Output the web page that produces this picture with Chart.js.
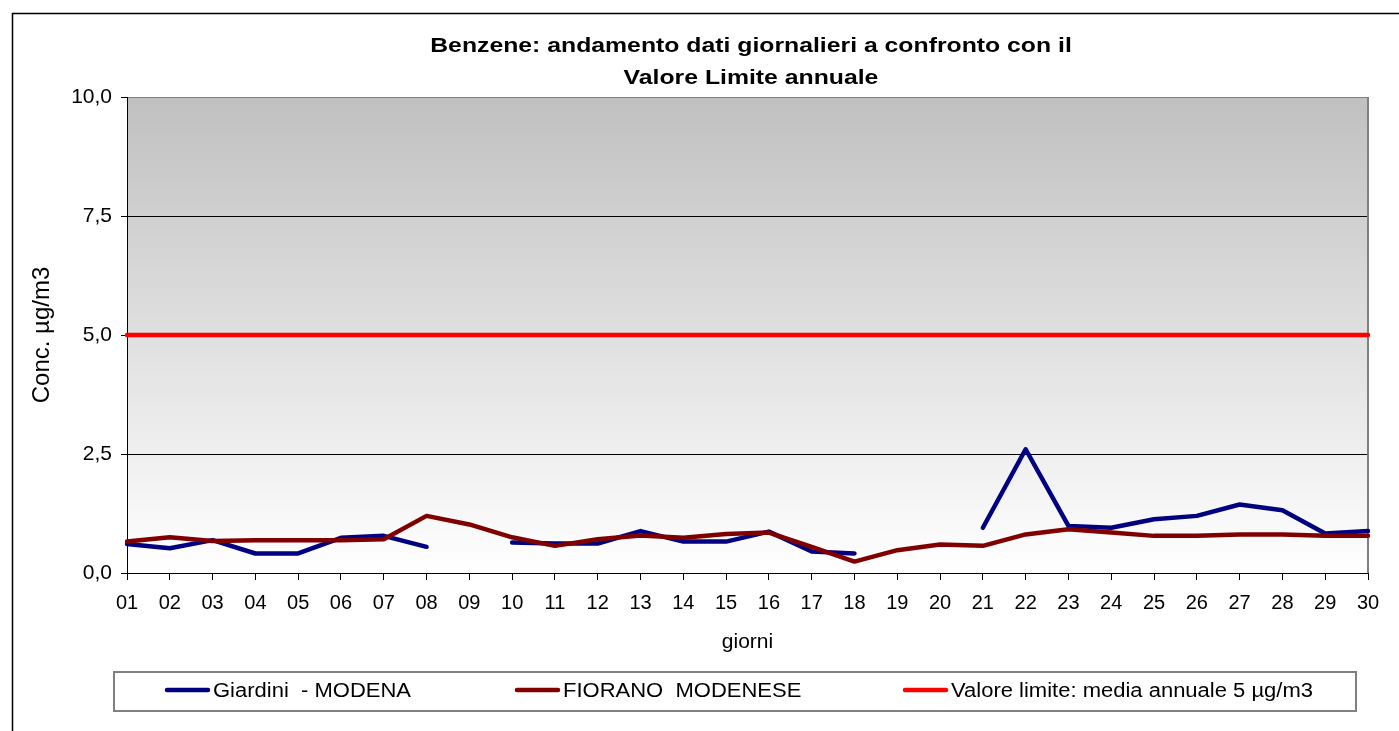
<!DOCTYPE html>
<html>
<head>
<meta charset="utf-8">
<script src="https://cdn.jsdelivr.net/npm/chart.js@4/dist/chart.umd.min.js"></script>
<style>
  html, body { margin: 0; padding: 0; background: #fff; }
  #benzene-chart-container { position: relative; width: 1399px; height: 731px; }
</style>
</head>
<body>
<div id="benzene-chart-container"><canvas id="benzene-chart" width="1399" height="731"></canvas></div>
<script>
// dati (null = dato mancante)
const giorni = ['01','02','03','04','05','06','07','08','09','10','11','12','13','14','15',
                '16','17','18','19','20','21','22','23','24','25','26','27','28','29','30'];
const giardini = [0.61, 0.52, 0.69, 0.41, 0.41, 0.74, 0.78, 0.55, null, 0.64,
                  0.62, 0.62, 0.88, 0.66, 0.66, 0.87, 0.45, 0.41, null, null,
                  0.95, 2.60, 0.99, 0.95, 1.13, 1.20, 1.44, 1.32, 0.83, 0.88];
const fiorano = [0.66, 0.75, 0.67, 0.69, 0.69, 0.69, 0.71, 1.20, 1.02, 0.75,
                 0.57, 0.71, 0.79, 0.74, 0.82, 0.85, 0.55, 0.24, 0.48, 0.60,
                 0.57, 0.81, 0.92, 0.85, 0.78, 0.78, 0.81, 0.81, 0.78, 0.78];
const valoreLimite = [5, 5, 5, 5, 5, 5, 5, 5, 5, 5, 5, 5, 5, 5, 5,
                      5, 5, 5, 5, 5, 5, 5, 5, 5, 5, 5, 5, 5, 5, 5];
const etichette = ['Giardini  - MODENA', 'FIORANO  MODENESE', 'Valore limite: media annuale 5 \u00b5g/m3'];
const titolo = ['Benzene: andamento dati giornalieri a confronto con il', 'Valore Limite annuale'];

const FONT = "'Liberation Sans', Arial, sans-serif";

// testo un po' allargato in orizzontale, come nel grafico originale
function stretchText(ctx, text, x, y, sx) {
  ctx.save();
  ctx.translate(x, y);
  ctx.scale(sx, 1);
  ctx.fillText(text, 0, 0);
  ctx.restore();
}

// sfondo grigio sfumato, cornice, titolo e legenda disegnati a mano
const decorPlugin = {
  id: 'decor',
  beforeDraw(chart) {
    const { ctx, chartArea: a } = chart;
    const g = ctx.createLinearGradient(0, a.top, 0, a.bottom);
    g.addColorStop(0, '#c0c0c0');
    g.addColorStop(1, '#ffffff');
    ctx.save();
    ctx.fillStyle = g;
    ctx.fillRect(a.left, a.top, a.right - a.left, a.bottom - a.top);
    ctx.restore();
  },
  beforeDatasetsDraw(chart) {
    const { ctx, chartArea: a } = chart;
    ctx.save();
    ctx.strokeStyle = '#808080';
    ctx.lineWidth = 2;
    ctx.beginPath();
    ctx.moveTo(a.right, a.top);
    ctx.lineTo(a.right, a.bottom);
    ctx.stroke();
    ctx.restore();
  },
  afterDraw(chart) {
    const ctx = chart.ctx;
    ctx.save();
    // cornice esterna
    ctx.strokeStyle = '#000';
    ctx.lineWidth = 1.5;
    ctx.beginPath();
    ctx.moveTo(12.5, 731);
    ctx.lineTo(12.5, 13.5);
    ctx.lineTo(1399, 13.5);
    ctx.stroke();

    // titolo
    ctx.fillStyle = '#000';
    ctx.font = 'bold 21px ' + FONT;
    ctx.textAlign = 'center';
    ctx.textBaseline = 'middle';
    stretchText(ctx, titolo[0], 751, 46, 1.18);
    stretchText(ctx, titolo[1], 751, 78, 1.18);

    // legenda
    ctx.strokeStyle = '#808080';
    ctx.lineWidth = 2;
    ctx.strokeRect(114, 672, 1242, 39);
    const lineX = [165, 515, 903];
    ctx.font = '20px ' + FONT;
    ctx.textAlign = 'left';
    chart.data.datasets.forEach((ds, i) => {
      ctx.strokeStyle = ds.borderColor;
      ctx.lineWidth = 4.5;
      ctx.lineCap = 'round';
      ctx.beginPath();
      ctx.moveTo(lineX[i] + 2, 690);
      ctx.lineTo(lineX[i] + 43, 690);
      ctx.stroke();
      ctx.fillStyle = '#000';
      stretchText(ctx, ds.label, lineX[i] + 48, 691, 1.1);
    });
    ctx.restore();
  }
};

new Chart(document.getElementById('benzene-chart'), {
  type: 'line',
  data: {
    labels: giorni,
    datasets: [
      { label: etichette[0], data: giardini, borderColor: '#000080', order: 2 },
      { label: etichette[1], data: fiorano, borderColor: '#800000', order: 1 },
      { label: etichette[2], data: valoreLimite, borderColor: '#ff0000', order: 0 }
    ]
  },
  options: {
    responsive: false,
    animation: false,
    devicePixelRatio: 1,
    layout: { padding: { left: 12, right: 31, top: 97, bottom: 73 } },
    elements: {
      point: { radius: 0, hoverRadius: 0 },
      line: { borderWidth: 4.5, tension: 0, borderCapStyle: 'round', borderJoinStyle: 'round', fill: false }
    },
    spanGaps: false,
    plugins: {
      legend: { display: false },
      title: { display: false },
      tooltip: { enabled: false }
    },
    scales: {
      x: {
        offset: false,
        grid: { drawOnChartArea: false, drawTicks: true, tickLength: 7, tickColor: '#000' },
        border: { color: '#000', width: 1 },
        ticks: { color: '#000', font: { family: FONT, size: 20 }, padding: 11, maxRotation: 0, autoSkip: false },
        title: { display: true, text: 'giorni', color: '#000', font: { family: FONT, size: 21 }, padding: { top: 0, bottom: 3 } },
        afterFit(scale) { scale.height = 85; }
      },
      y: {
        min: 0,
        max: 10,
        grid: {
          color: c => (c.tick && c.tick.value === 10 ? '#808080' : '#000'),
          lineWidth: 1,
          drawTicks: true,
          tickLength: 6,
          tickColor: '#000'
        },
        border: { color: '#000', width: 1 },
        ticks: {
          stepSize: 2.5,
          color: '#000',
          padding: 9,
          font: { family: FONT, size: 21 },
          callback: v => v.toFixed(1).replace('.', ',')
        },
        title: { display: true, text: 'Conc. \u00b5g/m3', color: '#000', font: { family: FONT, size: 24 }, padding: { top: 16, bottom: 0 } },
        afterFit(scale) { scale.width = 115; }
      }
    }
  },
  plugins: [decorPlugin]
});
</script>
</body>
</html>
